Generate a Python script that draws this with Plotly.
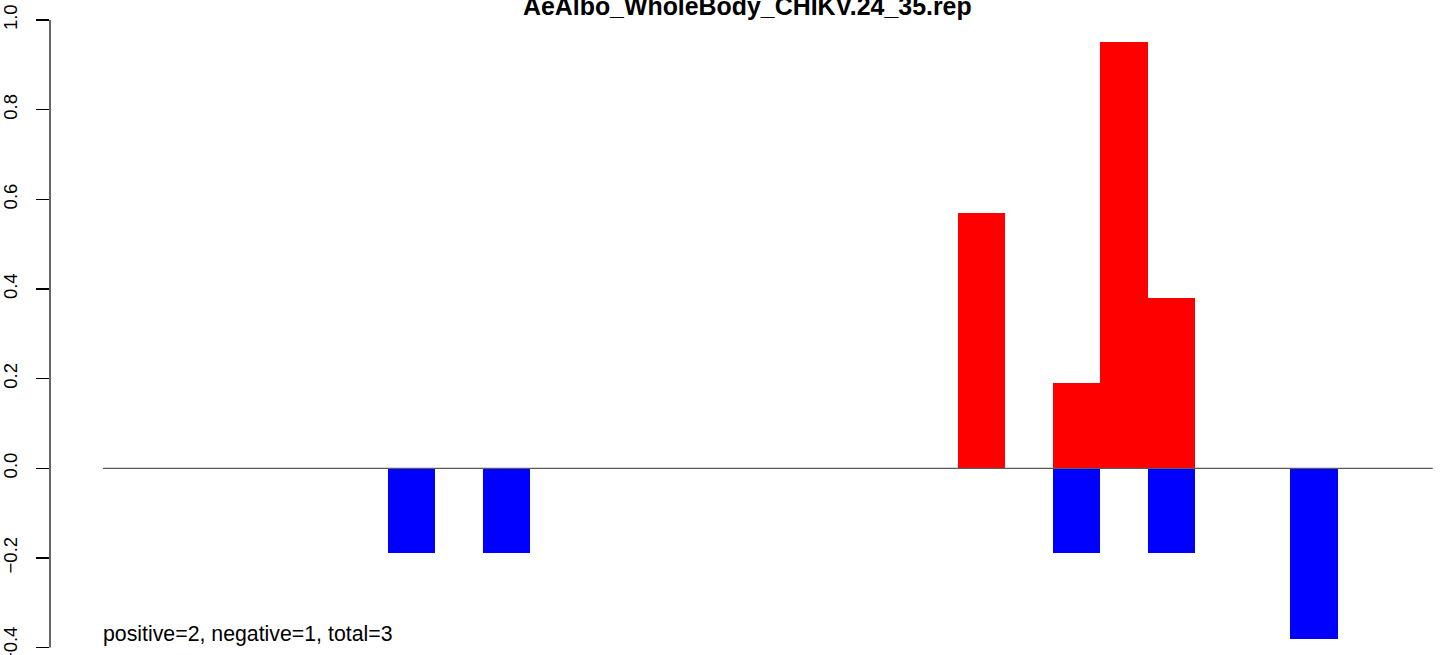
import plotly.graph_objects as go

# ---- data ----
positions = list(range(28))
positive_vals = [0, 0, 0, 0, 0, 0, 0, 0, 0, 0, 0, 0, 0, 0, 0, 0, 0, 0,
                 0.57, 0, 0.19, 0.95, 0.38, 0, 0, 0, 0, 0]
negative_vals = [0, 0, 0, 0, 0, 0, -0.19, 0, -0.19, 0, 0, 0, 0, 0, 0, 0, 0, 0,
                 0, 0, -0.19, 0, -0.19, 0, 0, -0.38, 0, 0]
y_ticks = [-0.4, -0.2, 0.0, 0.2, 0.4, 0.6, 0.8, 1.0]
y_tick_text = ["\u22120.4", "\u22120.2", "0.0", "0.2", "0.4", "0.6", "0.8", "1.0"]
title_text = "AeAlbo_WholeBody_CHIKV.24_35.rep"
note_text = "positive=2, negative=1, total=3"

FONT = "Liberation Sans, Arial, Helvetica, sans-serif"

fig = go.Figure()
fig.add_trace(go.Bar(x=positions, y=positive_vals, width=1,
                     marker=dict(color="#FF0000", line=dict(width=0)),
                     showlegend=False, hoverinfo="skip"))
fig.add_trace(go.Bar(x=positions, y=negative_vals, width=1,
                     marker=dict(color="#0000FF", line=dict(width=0)),
                     showlegend=False, hoverinfo="skip"))

# zero line across the bar range
fig.add_shape(type="line", xref="x", yref="y", x0=-0.5, x1=len(positions) - 0.5,
              y0=0, y1=0, line=dict(color="#5a5a5a", width=1.2), layer="above")
# y axis line (only across tick range)
fig.add_shape(type="line", xref="paper", yref="y", x0=0, x1=0,
              y0=min(y_ticks), y1=max(y_ticks), line=dict(color="black", width=1.2))

fig.add_annotation(text="<b>" + title_text + "</b>", xref="paper", yref="paper",
                   x=0.5, y=1 - 6 / 655, xanchor="center", yanchor="middle",
                   showarrow=False, font=dict(family=FONT, size=24.9, color="black"))
fig.add_annotation(text=note_text, xref="x", yref="paper",
                   x=-0.5, xshift=-2, y=1 - 634 / 655, xanchor="left", yanchor="middle",
                   showarrow=False, font=dict(family=FONT, size=21.3, color="black"))

fig.update_layout(
    width=1444, height=655, autosize=False,
    margin=dict(l=50, r=0, t=0, b=0, pad=0),
    paper_bgcolor="white", plot_bgcolor="white",
    barmode="overlay", bargap=0,
    xaxis=dict(range=[-1.616, 27.737], visible=False, fixedrange=True),
    yaxis=dict(range=[-0.41646, 1.04461], tickvals=y_ticks, ticktext=y_tick_text,
               ticks="outside", ticklen=13, tickwidth=1.2, tickcolor="black",
               tickangle=-90, showgrid=False, zeroline=False, showline=False,
               automargin=False, ticklabelstandoff=12, ticklabeloverflow="allow",
               fixedrange=True,
               tickfont=dict(family=FONT, size=18.5, color="black")),
)

fig.write_html("out.html", config={"displayModeBar": False, "staticPlot": True},
               post_script="document.body.style.margin='0';document.body.style.overflow='hidden';")
